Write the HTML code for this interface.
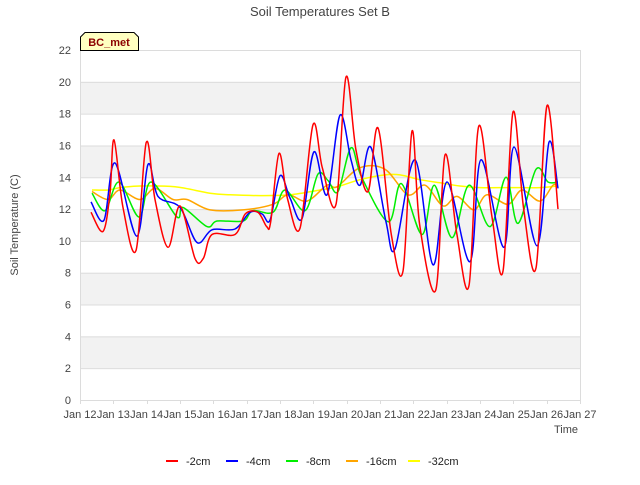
<!DOCTYPE html>
<html><head><meta charset="utf-8"><style>
body{margin:0;background:#fff;font-family:"Liberation Sans",sans-serif;}
svg text{font-family:"Liberation Sans",sans-serif;}
</style></head><body>
<svg id="chart" width="640" height="480" xmlns="http://www.w3.org/2000/svg">
<g id="bands"></g>
<g id="grid"></g>
<g id="axes"></g>
<g id="series"></g>
<text x="320" y="16" text-anchor="middle" font-size="13" fill="#444">Soil Temperatures Set B</text>
<text transform="translate(18,225) rotate(-90)" text-anchor="middle" font-size="11" fill="#444">Soil Temperature (C)</text>
<text x="578" y="433" text-anchor="end" font-size="11" fill="#444">Time</text>
<g>
<path d="M80.5,50.5 L80.5,37 L85,32.5 L134,32.5 L138.5,37 L138.5,50.5 Z" fill="#ffffc0" stroke="#000" stroke-width="1"/>
<text x="109" y="46" text-anchor="middle" font-size="11" font-weight="bold" fill="#8b0000">BC_met</text>
</g>
<g id="legend"></g>
</svg>
<script>
const xTickLabels=["Jan 12","Jan 13","Jan 14","Jan 15","Jan 16","Jan 17","Jan 18","Jan 19","Jan 20","Jan 21","Jan 22","Jan 23","Jan 24","Jan 25","Jan 26","Jan 27"];
const yTicks=[0,2,4,6,8,10,12,14,16,18,20,22];
const seriesNames=["-2cm","-4cm","-8cm","-16cm","-32cm"];
const seriesColors=["#ff0000","#0000ff","#00ee00","#ffa500","#ffff00"];
const t2=[0.33,0.69,0.90,1.02,1.29,1.68,1.99,2.25,2.64,3.0,3.45,3.7,3.96,4.65,4.96,5.34,5.6,5.72,5.97,6.23,6.6,6.99,7.27,7.68,7.98,8.28,8.64,8.94,9.34,9.69,9.96,10.19,10.67,10.95,11.3,11.67,11.96,12.36,12.69,12.99,13.31,13.68,14.01,14.34];
const v2=[11.8,10.6,13.0,16.35,12.1,9.4,16.2,12.6,9.6,12.2,8.9,8.9,10.4,10.4,11.7,11.8,10.9,11.2,15.5,12.6,10.8,17.3,14.6,12.3,20.3,15.7,13.1,17.1,10.4,8.1,16.9,11.0,6.9,15.4,10.5,7.2,17.2,11.5,8.1,18.1,12.0,8.3,18.5,12.0];
const t4=[0.33,0.72,1.05,1.70,2.04,2.34,3.0,3.51,3.96,4.65,5.10,5.46,5.70,6.0,6.30,6.66,7.02,7.41,7.80,8.13,8.40,8.72,9.18,9.45,10.05,10.59,11.01,11.70,12.03,12.72,13.02,13.71,14.07,14.34];
const v4=[12.45,11.3,14.9,10.3,14.8,12.8,12.1,9.9,10.7,10.75,11.8,11.7,11.3,14.1,12.7,11.4,15.6,12.9,17.9,15.1,13.5,15.9,11.2,9.5,15.1,8.5,13.7,8.7,15.1,9.6,15.9,9.7,16.2,13.3];
const t8=[0.36,0.75,1.17,1.77,2.13,2.91,3.09,3.81,4.11,4.89,5.18,5.79,6.15,6.75,7.14,7.44,7.74,8.13,8.45,9.25,9.64,10.26,10.63,11.16,11.67,12.30,12.78,13.14,13.68,14.04,14.34];
const v8=[13.0,11.9,13.7,11.5,13.7,11.5,12.1,10.9,11.25,11.25,11.9,11.8,13.2,11.9,14.2,13.8,13.1,15.85,14.0,11.2,13.6,10.4,13.5,10.2,13.5,10.9,14.0,11.1,14.5,13.7,13.7];
const t16=[0.36,0.84,1.20,1.80,2.25,2.79,3.21,3.90,4.89,5.79,6.24,6.81,7.41,7.71,8.40,9.15,9.84,10.35,10.89,11.31,11.82,12.21,12.84,13.26,13.80,14.19,14.34];
const v16=[13.1,12.6,13.2,12.6,13.3,12.6,12.6,11.95,11.95,12.3,12.9,12.5,13.5,13.4,14.6,14.5,12.9,13.5,12.2,12.8,11.95,12.9,12.3,13.2,12.5,13.5,13.4];
const t32=[0.36,0.84,1.20,1.80,2.85,3.90,4.50,5.40,6.30,7.20,7.71,8.40,9.15,9.60,10.20,10.80,11.40,12.0,12.90,13.80,14.34];
const v32=[13.2,13.2,13.35,13.45,13.4,13.0,12.9,12.85,12.9,13.2,13.4,13.85,14.15,14.15,13.85,13.65,13.45,13.35,13.35,13.35,13.45];
const seriesT=[t2,t4,t8,t16,t32];
const seriesV=[v2,v4,v8,v16,v32];

const X0=80,X1=580,Y0=400,Y1=50;
const xs=d=>X0+d*(X1-X0)/15;
const ys=v=>Y0-v*(Y0-Y1)/22;
const NS="http://www.w3.org/2000/svg";
function mk(tag,attrs,parent){const e=document.createElementNS(NS,tag);for(const k in attrs)e.setAttribute(k,attrs[k]);parent.appendChild(e);return e;}
const bands=document.getElementById('bands'),grid=document.getElementById('grid'),axes=document.getElementById('axes'),series=document.getElementById('series'),legend=document.getElementById('legend');
mk('rect',{x:X0,y:Y1,width:X1-X0,height:Y0-Y1,fill:'#fff'},bands);
for(let v=2;v<22;v+=4){const r=mk('rect',{x:X0,y:ys(v+2),width:X1-X0,height:ys(v)-ys(v+2),fill:'#f2f2f2'},bands);

}
yTicks.forEach(v=>{const l=mk('line',{x1:X0,x2:X1,y1:ys(v)+0.5,y2:ys(v)+0.5,stroke:'#dcdcdc','stroke-width':1},grid);


const t=mk('text',{x:X0-9,y:ys(v)+4,'text-anchor':'end','font-size':11,fill:'#444'},axes);t.textContent=v;

});
mk('line',{x1:X1+0.5,x2:X1+0.5,y1:Y1,y2:Y0,stroke:'#dcdcdc','stroke-width':1},grid);
mk('line',{x1:X0+0.5,x2:X0+0.5,y1:Y1,y2:Y0,stroke:'#dcdcdc','stroke-width':1},grid);
xTickLabels.forEach((s,i)=>{const x=Math.round(xs(i))+0.5;
const l=mk('line',{x1:x,x2:x,y1:Y0,y2:Y0+4,stroke:'#dcdcdc','stroke-width':1},grid);


const t=mk('text',{x:xs(i),y:Y0+18,'text-anchor':'middle','font-size':11,fill:'#444'},axes);t.textContent=s;

});
function smooth(pts){let d=`M${pts[0][0]},${pts[0][1]}`;for(let i=0;i<pts.length-1;i++){const p0=pts[Math.max(0,i-1)],p1=pts[i],p2=pts[i+1],p3=pts[Math.min(pts.length-1,i+2)];
const c1=[p1[0]+(p2[0]-p0[0])/6,p1[1]+(p2[1]-p0[1])/6],c2=[p2[0]-(p3[0]-p1[0])/6,p2[1]-(p3[1]-p1[1])/6];
d+=` C${c1[0].toFixed(1)},${c1[1].toFixed(1)} ${c2[0].toFixed(1)},${c2[1].toFixed(1)} ${p2[0].toFixed(1)},${p2[1].toFixed(1)}`;}return d;}
for(let s=4;s>=0;s--){const pts=seriesT[s].map((t,i)=>[xs(t),ys(seriesV[s][i])]);
const p=mk('path',{d:smooth(pts),fill:'none',stroke:seriesColors[s],'stroke-width':1.5,'stroke-linejoin':'round'},series);

}
const lx=[166,226,286,346,408];
seriesNames.forEach((n,i)=>{const g=mk('g',{},legend);


mk('line',{x1:lx[i],x2:lx[i]+12,y1:461,y2:461,stroke:seriesColors[i],'stroke-width':2},g);
const t=mk('text',{x:lx[i]+20,y:465,'font-size':11,fill:'#222'},g);t.textContent=n;});
</script>
</body></html>
